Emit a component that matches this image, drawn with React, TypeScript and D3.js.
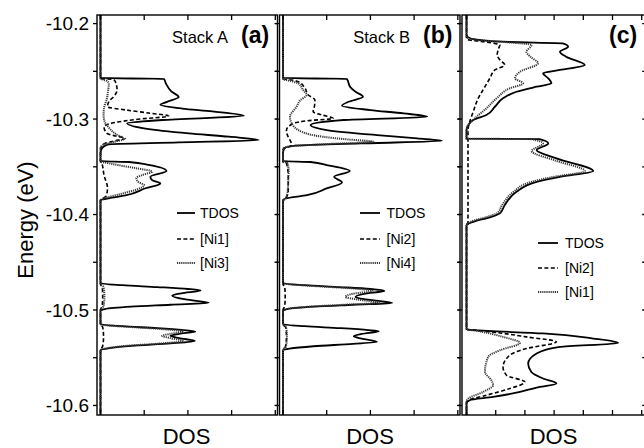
import * as d3 from 'd3';

type Pt = [number, number]; // [energy (eV), DOS]

// ---- Energy axis ----
const energyTickLabels = [-10.2, -10.3, -10.4, -10.5, -10.6];

// ---- DOS axis ticks ----
const dosTicksAB = [0, 1, 2, 3, 4];
const dosTicksC = [0, 1, 2, 3, 4, 5, 6];

// ---- Panel (a) Stack A ----
const aTDOS: Pt[] = [
    [-10.191, 0], [-10.257, 0], [-10.258, 1.45], [-10.263, 1.5], [-10.271, 1.62], [-10.277, 1.79],
    [-10.282, 1.52], [-10.285, 1.37], [-10.289, 1.87], [-10.292, 2.56], [-10.2965, 3.28], [-10.301, 1.41],
    [-10.3045, 0.61], [-10.31, 1.03], [-10.315, 2.02], [-10.3185, 2.94], [-10.322, 3.62], [-10.3245, 1.79],
    [-10.3265, 0.18], [-10.331, 0.03], [-10.336, 0], [-10.344, 0], [-10.345, 0.65], [-10.348, 1.1],
    [-10.3545, 1.51], [-10.3605, 1.14], [-10.364, 1.18], [-10.3675, 1.37], [-10.3725, 1.03], [-10.38, 0.57],
    [-10.383, 0.18], [-10.385, 0], [-10.472, 0], [-10.474, 0.5], [-10.476, 1.3], [-10.478, 2.0],
    [-10.4795, 2.29], [-10.4825, 1.85], [-10.485, 1.64], [-10.489, 1.95], [-10.4925, 2.48], [-10.4945, 1.6],
    [-10.4965, 0.7], [-10.499, 0.1], [-10.501, 0], [-10.515, 0], [-10.517, 0.5], [-10.519, 1.3],
    [-10.521, 1.9], [-10.5225, 2.17], [-10.525, 1.8], [-10.527, 1.6], [-10.5295, 1.8], [-10.5325, 2.16],
    [-10.535, 1.6], [-10.5375, 0.7], [-10.54, 0.2], [-10.542, 0], [-10.61, 0],
];
const aNi1: Pt[] = [
    [-10.191, 0], [-10.2575, 0], [-10.2586, 0.3], [-10.2609, 0.34], [-10.2696, 0.38], [-10.2766, 0.3],
    [-10.2811, 0.2], [-10.2871, 0.16], [-10.2906, 0.6], [-10.2937, 1.1], [-10.2969, 1.56], [-10.3, 0.9],
    [-10.3039, 0.3], [-10.3081, 0.08], [-10.315, 0.15], [-10.3178, 0.35], [-10.3202, 0.57], [-10.3231, 0.3],
    [-10.3255, 0.1], [-10.329, 0.02], [-10.3325, 0], [-10.3448, 0], [-10.3462, 0.03], [-10.3587, 0.08],
    [-10.3723, 0.16], [-10.3807, 0.13], [-10.3839, 0.03], [-10.385, 0], [-10.473, 0], [-10.476, 0.04],
    [-10.486, 0.05], [-10.496, 0.04], [-10.5, 0], [-10.515, 0], [-10.518, 0.05], [-10.528, 0.07],
    [-10.538, 0.05], [-10.542, 0], [-10.61, 0],
];
const aNi3: Pt[] = [
    [-10.191, 0], [-10.2575, 0], [-10.2602, 0.15], [-10.2633, 0.19], [-10.2717, 0.17], [-10.278, 0.15],
    [-10.2885, 0.08], [-10.2958, 0.07], [-10.3021, 0.09], [-10.3094, 0.2], [-10.3157, 0.35], [-10.321, 0.53],
    [-10.3241, 0.3], [-10.3273, 0.05], [-10.3304, 0], [-10.3448, 0], [-10.3456, 0.1], [-10.3482, 0.4],
    [-10.3514, 0.8], [-10.355, 1.18], [-10.3587, 0.95], [-10.3618, 0.82], [-10.366, 0.87], [-10.3692, 1.0],
    [-10.3734, 0.85], [-10.3786, 0.45], [-10.3828, 0.1], [-10.385, 0], [-10.473, 0], [-10.476, 0.07],
    [-10.486, 0.09], [-10.496, 0.07], [-10.5, 0], [-10.515, 0], [-10.517, 0.4], [-10.519, 1.1],
    [-10.521, 1.65], [-10.5225, 1.9], [-10.525, 1.6], [-10.527, 1.41], [-10.5295, 1.6], [-10.5325, 1.9],
    [-10.535, 1.4], [-10.5375, 0.6], [-10.54, 0.15], [-10.542, 0], [-10.61, 0],
];

// ---- Panel (b) Stack B ----
const bTDOS: Pt[] = [
    [-10.191, 0], [-10.257, 0], [-10.258, 1.46], [-10.2665, 1.54], [-10.2714, 1.66], [-10.2766, 1.83],
    [-10.2819, 1.5], [-10.286, 1.35], [-10.2906, 2.0], [-10.2941, 2.76], [-10.2976, 3.3], [-10.301, 1.39],
    [-10.3063, 0.63], [-10.3115, 1.0], [-10.3168, 2.15], [-10.3202, 3.07], [-10.3228, 3.64], [-10.3255, 1.77],
    [-10.328, 0.24], [-10.3307, 0.03], [-10.336, 0], [-10.344, 0], [-10.345, 0.63], [-10.3482, 1.0],
    [-10.3545, 1.53], [-10.3605, 1.17], [-10.3664, 1.35], [-10.3727, 1.0], [-10.3797, 0.55], [-10.3832, 0.06],
    [-10.385, 0], [-10.472, 0], [-10.474, 0.5], [-10.476, 1.3], [-10.478, 2.0], [-10.48, 2.32],
    [-10.483, 1.85], [-10.4863, 1.66], [-10.489, 1.9], [-10.4926, 2.5], [-10.4945, 1.6], [-10.4965, 0.7],
    [-10.499, 0.1], [-10.501, 0], [-10.515, 0], [-10.517, 0.5], [-10.519, 1.3], [-10.521, 1.95],
    [-10.5222, 2.19], [-10.525, 1.8], [-10.5275, 1.62], [-10.53, 1.8], [-10.5334, 2.15], [-10.5355, 1.6],
    [-10.538, 0.7], [-10.5405, 0.15], [-10.5425, 0], [-10.61, 0],
];
const bNi2: Pt[] = [
    [-10.191, 0], [-10.2581, 0], [-10.2591, 0.2], [-10.2609, 0.35], [-10.2675, 0.5], [-10.2748, 0.58],
    [-10.2801, 0.73], [-10.2864, 0.72], [-10.2923, 0.69], [-10.2958, 0.9], [-10.2993, 1.15], [-10.3016, 0.6],
    [-10.3045, 0.24], [-10.3115, 0.08], [-10.3168, 0.1], [-10.322, 0.16], [-10.3273, 0.2], [-10.3293, 0.12],
    [-10.3314, 0], [-10.3448, 0], [-10.346, 0.08], [-10.36, 0.12], [-10.375, 0.12], [-10.383, 0.06],
    [-10.385, 0], [-10.473, 0], [-10.476, 0.04], [-10.486, 0.05], [-10.496, 0.04], [-10.5, 0],
    [-10.515, 0], [-10.518, 0.06], [-10.528, 0.08], [-10.538, 0.06], [-10.542, 0], [-10.61, 0],
];
const bNi4: Pt[] = [
    [-10.191, 0], [-10.2581, 0], [-10.2591, 0.08], [-10.2626, 0.35], [-10.2696, 0.46], [-10.2748, 0.54],
    [-10.2801, 0.4], [-10.2871, 0.31], [-10.2976, 0.16], [-10.3045, 0.2], [-10.3133, 0.43], [-10.3186, 0.92],
    [-10.321, 1.39], [-10.3238, 2.07], [-10.3262, 1.0], [-10.329, 0.1], [-10.3314, 0], [-10.3448, 0],
    [-10.346, 0.1], [-10.355, 0.13], [-10.365, 0.12], [-10.378, 0.1], [-10.384, 0.05], [-10.385, 0],
    [-10.472, 0], [-10.474, 0.4], [-10.476, 1.1], [-10.478, 1.75], [-10.48, 2.05], [-10.483, 1.6],
    [-10.4863, 1.43], [-10.489, 1.7], [-10.4926, 2.2], [-10.4945, 1.4], [-10.4965, 0.6], [-10.499, 0.08],
    [-10.501, 0], [-10.515, 0], [-10.518, 0.07], [-10.528, 0.09], [-10.538, 0.07], [-10.542, 0], [-10.61, 0],
];

// ---- Panel (c) ----
const cTDOS: Pt[] = [
    [-10.191, 0], [-10.212, 0], [-10.2154, 0.12], [-10.2172, 0.46], [-10.2193, 1.5], [-10.2207, 3.3],
    [-10.2242, 3.48], [-10.2295, 3.2], [-10.2347, 3.41], [-10.2434, 4.05], [-10.2486, 3.2], [-10.2521, 2.62],
    [-10.2573, 2.8], [-10.2626, 2.91], [-10.2661, 2.4], [-10.2714, 1.71], [-10.2783, 1.25], [-10.2871, 0.97],
    [-10.2958, 0.68], [-10.301, 0.23], [-10.3063, 0.06], [-10.3115, 0], [-10.3205, 0], [-10.321, 2.5],
    [-10.3255, 2.8], [-10.3325, 2.4], [-10.3412, 3.08], [-10.3545, 4.34], [-10.3605, 3.2], [-10.3657, 2.4],
    [-10.3762, 1.71], [-10.3901, 1.31], [-10.3988, 1.14], [-10.4024, 0.85], [-10.4077, 0.23], [-10.4111, 0],
    [-10.5201, 0], [-10.5212, 0.3], [-10.5246, 2.62], [-10.5299, 4.34], [-10.5345, 5.19], [-10.5387, 3.2],
    [-10.5456, 2.4], [-10.5561, 2.11], [-10.5649, 2.22], [-10.5718, 2.62], [-10.577, 3.08], [-10.5812, 2.4],
    [-10.5858, 1.83], [-10.5911, 0.91], [-10.5945, 0.11], [-10.598, 0], [-10.61, 0],
];
const cNi2: Pt[] = [
    [-10.191, 0], [-10.216, 0], [-10.2172, 0.1], [-10.219, 0.6], [-10.2224, 1.14], [-10.2259, 1.1],
    [-10.2329, 1.05], [-10.2382, 1.15], [-10.2434, 1.31], [-10.2486, 0.97], [-10.2573, 0.8], [-10.2661, 0.63],
    [-10.2783, 0.4], [-10.2923, 0.23], [-10.3028, 0.11], [-10.3115, 0.05], [-10.4105, 0.05], [-10.412, 0],
    [-10.5201, 0], [-10.5212, 0.3], [-10.5243, 1.2], [-10.5282, 2.05], [-10.5334, 3.08], [-10.5404, 2.05],
    [-10.5474, 1.48], [-10.5596, 1.25], [-10.5683, 1.37], [-10.5754, 2.0], [-10.5823, 1.48], [-10.5893, 0.68],
    [-10.5945, 0.06], [-10.5966, 0], [-10.61, 0],
];
const cNi1: Pt[] = [
    [-10.191, 0], [-10.214, 0], [-10.2172, 0.4], [-10.2193, 1.3], [-10.2224, 2.23], [-10.2295, 2.05],
    [-10.235, 2.2], [-10.2416, 2.45], [-10.2504, 1.83], [-10.2573, 1.66], [-10.2626, 1.94], [-10.2678, 1.48],
    [-10.2783, 1.03], [-10.2888, 0.68], [-10.2993, 0.28], [-10.3063, 0.06], [-10.3115, 0], [-10.3205, 0],
    [-10.321, 2.2], [-10.3255, 2.62], [-10.3335, 2.23], [-10.3435, 3.05], [-10.3545, 4.05], [-10.361, 2.9],
    [-10.366, 2.2], [-10.3765, 1.6], [-10.39, 1.22], [-10.3985, 1.05], [-10.402, 0.75], [-10.4075, 0.15],
    [-10.411, 0], [-10.5201, 0], [-10.5221, 0.4], [-10.5282, 1.25], [-10.5345, 1.83], [-10.5422, 1.14],
    [-10.5492, 0.74], [-10.5649, 0.63], [-10.5736, 0.85], [-10.5788, 0.91], [-10.5858, 0.57], [-10.5928, 0.06],
    [-10.5963, 0], [-10.61, 0],
];

const panelTitles = ['Stack A', 'Stack B', ''];
const panelTags = ['(a)', '(b)', '(c)'];
const legendNames = [
    ['TDOS', '[Ni1]', '[Ni3]'],
    ['TDOS', '[Ni2]', '[Ni4]'],
    ['TDOS', '[Ni2]', '[Ni1]'],
];

const font = 'Liberation Sans, Arial, Helvetica, sans-serif';
const top = 15;
const bottom = 415;

// line styles: solid, dashed, dotted
const styles = [
    { stroke: '#000', width: 1.8, dash: '' },
    { stroke: '#000', width: 1.6, dash: '4 2.4' },
    { stroke: '#3a3a3a', width: 2, dash: '1.2 0.9' },
];

const panels = [
    { left: 97, dos: [-0.08, 4.05], width: 180.5, ticks: dosTicksAB, series: [aTDOS, aNi1, aNi3],
      legend: { x1: 177, x2: 195, tx: 200, ys: [213, 239, 263] }, titleEnd: 228, tagX: 241, dosLabelX: 186.5 },
    { left: 279.5, dos: [-0.08, 4.05], width: 180.5, ticks: dosTicksAB, series: [bTDOS, bNi2, bNi4],
      legend: { x1: 360, x2: 380, tx: 386.5, ys: [213, 239, 263] }, titleEnd: 410, tagX: 423, dosLabelX: 370 },
    { left: 462, dos: [-0.155, 6.12], width: 183.2, ticks: dosTicksC, series: [cTDOS, cNi2, cNi1],
      legend: { x1: 538, x2: 558, tx: 565, ys: [243, 268, 292] }, titleEnd: 0, tagX: 609, dosLabelX: 553.5 },
];

const y = d3.scaleLinear().domain([-10.191, -10.61]).range([top, bottom]);
const minorTicks = y.ticks(10);

const App = () => {
    return (
        <svg width={644} height={448} style={{ position: 'fixed', left: 0, top: 0, background: '#fff' }}
            fontFamily={font}>
            <rect width={644} height={448} fill="#fff" />
            {/* energy axis label */}
            <text transform="translate(33,220) rotate(-90)" textAnchor="middle" fontSize={22}>Energy (eV)</text>
            {energyTickLabels.map(e => (
                <text key={e} x={89} y={y(e)} dy="0.36em" textAnchor="end" fontSize={19}>{e.toFixed(1)}</text>
            ))}
            {panels.map((p, i) => {
                const x = d3.scaleLinear().domain(p.dos).range([p.left, p.left + p.width]);
                const line = d3.line<Pt>().x(d => x(d[1])).y(d => y(d[0])).curve(d3.curveMonotoneY);
                const right = p.left + p.width;
                return (
                    <g key={i}>
                        {p.series.map((s, k) => (
                            <path key={k} d={line(s) ?? ''} fill="none" stroke={styles[k].stroke}
                                strokeWidth={styles[k].width} strokeDasharray={styles[k].dash} />
                        ))}
                        <rect x={p.left} y={top} width={p.width} height={bottom - top} fill="none"
                            stroke="#000" strokeWidth={1.4} />
                        {minorTicks.map(t => (
                            <g key={t}>
                                <line x1={p.left - 4} x2={p.left} y1={y(t)} y2={y(t)} stroke="#000" strokeWidth={1.3} />
                                <line x1={right - 3} x2={right} y1={y(t)} y2={y(t)} stroke="#000" strokeWidth={1.3} />
                            </g>
                        ))}
                        {p.ticks.map(t => (
                            <g key={t}>
                                <line x1={x(t)} x2={x(t)} y1={top} y2={top + 5} stroke="#000" strokeWidth={1.3} />
                                <line x1={x(t)} x2={x(t)} y1={bottom} y2={bottom - 5} stroke="#000" strokeWidth={1.3} />
                            </g>
                        ))}
                        {panelTitles[i] && (
                            <text x={p.titleEnd} y={43} textAnchor="end" fontSize={16.5}>{panelTitles[i]}</text>
                        )}
                        <text x={p.tagX} y={43} fontSize={23} fontWeight="bold">{panelTags[i]}</text>
                        {legendNames[i].map((name, k) => (
                            <g key={name}>
                                <line x1={p.legend.x1} x2={p.legend.x2} y1={p.legend.ys[k]} y2={p.legend.ys[k]}
                                    stroke={styles[k].stroke} strokeWidth={styles[k].width}
                                    strokeDasharray={styles[k].dash} />
                                <text x={p.legend.tx} y={p.legend.ys[k]} dy="0.36em" fontSize={14}>{name}</text>
                            </g>
                        ))}
                        <text x={p.dosLabelX} y={444} textAnchor="middle" fontSize={22}>DOS</text>
                    </g>
                );
            })}
        </svg>
    );
};

export default App;
